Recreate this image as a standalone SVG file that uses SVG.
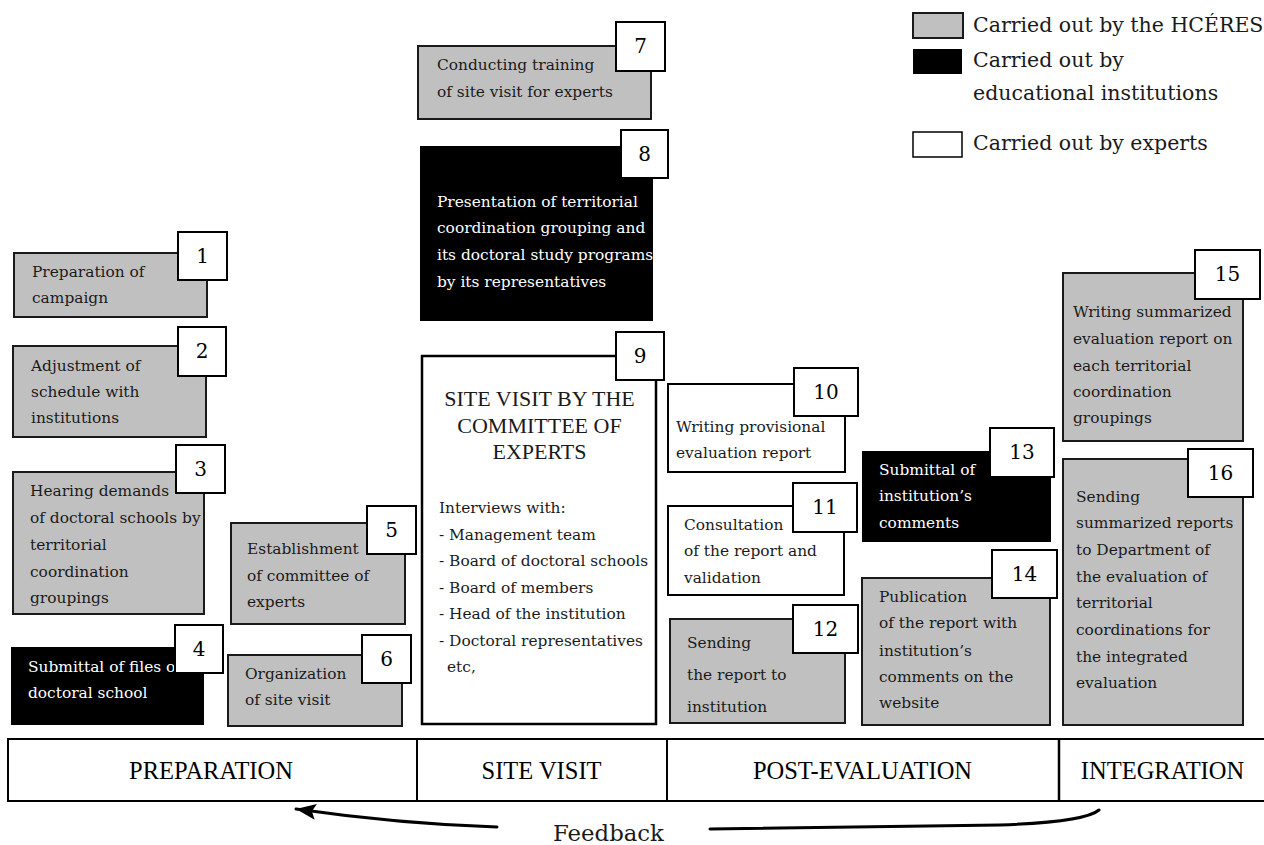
<svg xmlns="http://www.w3.org/2000/svg" width="1264" height="845" viewBox="0 0 1264 845">
<style>
.g{fill:#c0c0c0;stroke:#1a1a1a;stroke-width:2}
.k{fill:#000}
.w{fill:#fff;stroke:#000;stroke-width:2}
.t{font-family:"DejaVu Serif",serif;font-size:15.4px;fill:#1a1a1a}
.tw{fill:#fff}
.n{font-family:"DejaVu Serif",serif;font-size:20px;fill:#000;text-anchor:middle}
.ph{font-family:"Liberation Serif",serif;font-size:24.5px;fill:#000;text-anchor:middle}
.lg{font-family:"DejaVu Serif",serif;font-size:20.5px;fill:#1a1a1a}
.cn{fill:none;stroke:#000;stroke-width:3;stroke-linecap:round}
</style>
<defs>
<marker id="ah2" markerWidth="20" markerHeight="16" refX="20" refY="8" orient="auto" markerUnits="userSpaceOnUse">
<path d="M0,0 L20,8 L0,16 L4,8 Z" fill="#000"/>
</marker>
</defs>

<g id="legend">
<rect x="913" y="13" width="50" height="25" class="g"/>
<text x="973" y="32" class="lg">Carried out by the HCÉRES</text>
<rect x="913" y="49" width="49" height="25" class="k"/>
<text x="973" y="67" class="lg">Carried out by</text>
<text x="973" y="100" class="lg">educational institutions</text>
<rect x="913" y="132" width="49" height="25" fill="#fff" stroke="#000" stroke-width="1.5"/>
<text x="973" y="150" class="lg">Carried out by experts</text>
</g>

<g id="node1">
<rect x="14" y="253" width="193" height="64" class="g"/>
<text class="t"><tspan x="32" y="277">Preparation of</tspan><tspan x="32" y="303">campaign</tspan></text>
<rect x="178" y="232" width="49" height="48" class="w"/>
<text x="202.5" y="263" class="n">1</text>
</g>

<g id="node2">
<rect x="13" y="346" width="193" height="91" class="g"/>
<text class="t"><tspan x="31" y="371">Adjustment of</tspan><tspan x="31" y="397">schedule with</tspan><tspan x="31" y="423">institutions</tspan></text>
<rect x="178" y="327" width="48" height="49" class="w"/>
<text x="202" y="358" class="n">2</text>
</g>

<g id="node3">
<rect x="13" y="472" width="191" height="142" class="g"/>
<text class="t"><tspan x="30" y="496">Hearing demands</tspan><tspan x="30" y="523">of doctoral schools by</tspan><tspan x="30" y="550">territorial</tspan><tspan x="30" y="577">coordination</tspan><tspan x="30" y="603">groupings</tspan></text>
<rect x="176" y="445" width="49" height="48" class="w"/>
<text x="200.5" y="476" class="n">3</text>
</g>

<g id="node4">
<rect x="11" y="647" width="193" height="78" class="k"/>
<text class="t tw"><tspan x="28" y="672">Submittal of files of</tspan><tspan x="28" y="698">doctoral school</tspan></text>
<rect x="175" y="625" width="48" height="48" class="w"/>
<text x="199" y="656" class="n">4</text>
</g>

<g id="node5">
<rect x="231" y="523" width="174" height="101" class="g"/>
<text class="t"><tspan x="247" y="554">Establishment</tspan><tspan x="247" y="581">of committee of</tspan><tspan x="247" y="607">experts</tspan></text>
<rect x="367" y="506" width="49" height="48" class="w"/>
<text x="391.5" y="537" class="n">5</text>
</g>

<g id="node6">
<rect x="228" y="655" width="174" height="71" class="g"/>
<text class="t"><tspan x="245" y="679">Organization</tspan><tspan x="245" y="705">of site visit</tspan></text>
<rect x="362" y="635" width="49" height="48" class="w"/>
<text x="386.5" y="666" class="n">6</text>
</g>

<g id="node7">
<rect x="418" y="46" width="233" height="73" class="g"/>
<text class="t"><tspan x="437" y="70">Conducting training</tspan><tspan x="437" y="97">of site visit for experts</tspan></text>
<rect x="616" y="22" width="49" height="49" class="w"/>
<text x="640.5" y="53" class="n">7</text>
</g>

<g id="node8">
<rect x="420" y="146" width="233" height="175" class="k"/>
<text class="t tw"><tspan x="437" y="207">Presentation of territorial</tspan><tspan x="437" y="233">coordination grouping and</tspan><tspan x="437" y="260">its doctoral study programs</tspan><tspan x="437" y="287">by its representatives</tspan></text>
<rect x="621" y="130" width="47" height="48" class="w"/>
<text x="644.5" y="161" class="n">8</text>
</g>

<g id="node9">
<rect x="422" y="356" width="234" height="368" fill="#fff" stroke="#000" stroke-width="2.5"/>
<text font-family="Liberation Serif, serif" font-size="22px" fill="#1a1a1a" text-anchor="middle"><tspan x="539.5" y="406">SITE VISIT BY THE</tspan><tspan x="539.5" y="433">COMMITTEE OF</tspan><tspan x="539.5" y="459">EXPERTS</tspan></text>
<text x="439" y="513" class="t" font-size="18px">Interviews with:</text>
<text class="t"><tspan x="439" y="540">- Management team</tspan><tspan x="439" y="566">- Board of doctoral schools</tspan><tspan x="439" y="593">- Board of members</tspan><tspan x="439" y="619">- Head of the institution</tspan><tspan x="439" y="646">- Doctoral representatives</tspan><tspan x="447" y="672">etc,</tspan></text>
<rect x="616" y="332" width="48" height="48" class="w"/>
<text x="640" y="363" class="n">9</text>
</g>

<g id="node10">
<rect x="668" y="384" width="177" height="88" class="w"/>
<text class="t"><tspan x="676" y="432">Writing provisional</tspan><tspan x="676" y="458">evaluation report</tspan></text>
<rect x="794" y="368" width="64" height="48" class="w"/>
<text x="826" y="399" class="n">10</text>
</g>

<g id="node11">
<rect x="668" y="506" width="176" height="89" class="w"/>
<text class="t"><tspan x="684" y="530">Consultation</tspan><tspan x="684" y="556">of the report and</tspan><tspan x="684" y="583">validation</tspan></text>
<rect x="793" y="483" width="64" height="49" class="w"/>
<text x="825" y="514" class="n">11</text>
</g>

<g id="node12">
<rect x="670" y="619" width="175" height="104" class="g"/>
<text class="t"><tspan x="687" y="648">Sending</tspan><tspan x="687" y="680">the report to</tspan><tspan x="687" y="712">institution</tspan></text>
<rect x="793" y="605" width="65" height="48" class="w"/>
<text x="825.5" y="636" class="n">12</text>
</g>

<g id="node13">
<rect x="862" y="451" width="189" height="91" class="k"/>
<text class="t tw"><tspan x="879" y="475">Submittal of</tspan><tspan x="879" y="501">institution’s</tspan><tspan x="879" y="528">comments</tspan></text>
<rect x="990" y="428" width="64" height="49" class="w"/>
<text x="1022" y="459" class="n">13</text>
</g>

<g id="node14">
<rect x="862" y="578" width="188" height="147" class="g"/>
<text class="t"><tspan x="879" y="602">Publication</tspan><tspan x="879" y="628">of the report with</tspan><tspan x="879" y="656">institution’s</tspan><tspan x="879" y="682">comments on the</tspan><tspan x="879" y="708">website</tspan></text>
<rect x="992" y="550" width="65" height="48" class="w"/>
<text x="1024.5" y="581" class="n">14</text>
</g>

<g id="node15">
<rect x="1063" y="273" width="180" height="168" class="g"/>
<text class="t"><tspan x="1073" y="317">Writing summarized</tspan><tspan x="1073" y="344">evaluation report on</tspan><tspan x="1073" y="371">each territorial</tspan><tspan x="1073" y="397">coordination</tspan><tspan x="1073" y="423">groupings</tspan></text>
<rect x="1195" y="250" width="65" height="49" class="w"/>
<text x="1227.5" y="281" class="n">15</text>
</g>

<g id="node16">
<rect x="1063" y="459" width="180" height="266" class="g"/>
<text class="t"><tspan x="1076" y="502">Sending</tspan><tspan x="1076" y="528">summarized reports</tspan><tspan x="1076" y="555">to Department of</tspan><tspan x="1076" y="582">the evaluation of</tspan><tspan x="1076" y="608">territorial</tspan><tspan x="1076" y="635">coordinations for</tspan><tspan x="1076" y="662">the integrated</tspan><tspan x="1076" y="688">evaluation</tspan></text>
<rect x="1188" y="449" width="65" height="48" class="w"/>
<text x="1220.5" y="480" class="n">16</text>
</g>

<g id="phases">
<rect x="8" y="739" width="1270" height="62" fill="#fff" stroke="#000" stroke-width="2"/>
<line x1="417" y1="739" x2="417" y2="801" stroke="#000" stroke-width="2"/>
<line x1="667" y1="739" x2="667" y2="801" stroke="#000" stroke-width="2"/>
<line x1="1059" y1="739" x2="1059" y2="801" stroke="#000" stroke-width="2.5"/>
<text x="211" y="779" class="ph">PREPARATION</text>
<text x="541.5" y="779" class="ph">SITE VISIT</text>
<text x="862.5" y="779" class="ph">POST-EVALUATION</text>
<text x="1162.5" y="779" class="ph">INTEGRATION</text>
</g>

<g id="connectors">
<path d="M1099,810 Q1085,822 1000,825 L710,829" class="cn"/>
<path d="M497,827 Q400,824 296,809" class="cn" marker-end="url(#ah2)"/>
<text x="553" y="841" font-family="DejaVu Serif, serif" font-size="22.8px" fill="#1a1a1a">Feedback</text>
</g>
</svg>
